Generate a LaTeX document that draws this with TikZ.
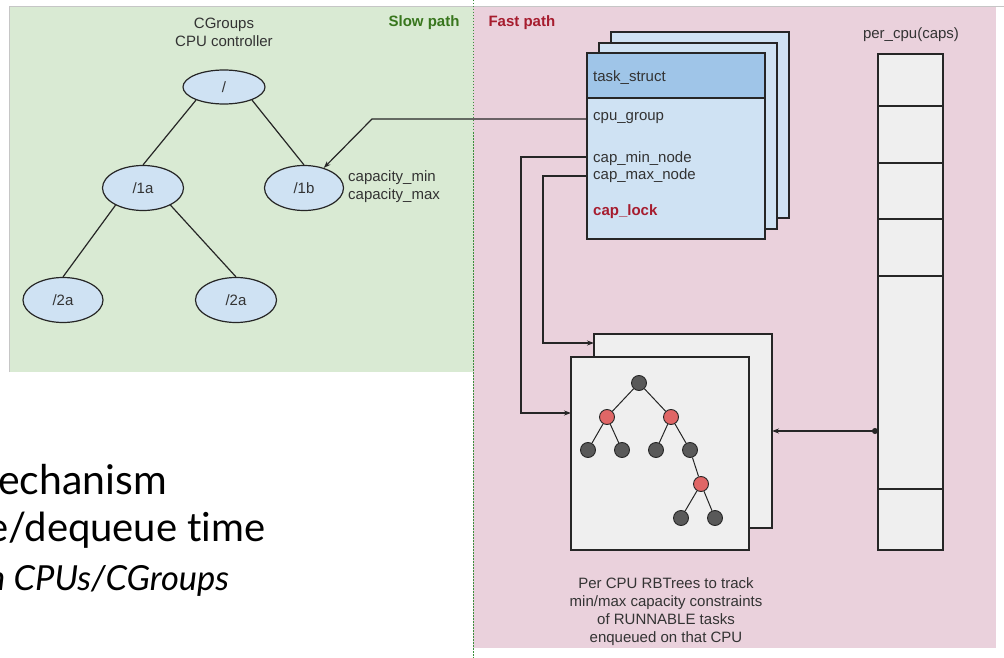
\documentclass[tikz,border=0pt]{standalone}
\usepackage{fontspec}
\setmainfont{Liberation Sans}
\newfontfamily\slidefont[RawFeature=-liga]{Lato}
\usetikzlibrary{positioning,shapes.geometric,arrows.meta}

\definecolor{slowbg}{HTML}{D9EAD3}
\definecolor{fastbg}{HTML}{EAD1DC}
\definecolor{slowtxt}{HTML}{38761D}
\definecolor{fasttxt}{HTML}{A61C2E}
\definecolor{groupfill}{HTML}{CFE2F3}
\definecolor{headfill}{HTML}{9FC5E8}
\definecolor{treebg}{HTML}{EFEFEF}
\definecolor{blacknode}{HTML}{595959}
\definecolor{rednode}{HTML}{E06666}
\definecolor{ink}{HTML}{333333}
\definecolor{lineink}{HTML}{262626}

\newcommand{\diagfont}{\fontsize{15}{18}\selectfont}

\begin{document}
\begin{tikzpicture}[x=1pt,y=-1pt,font=\diagfont,text=ink]
        \tikzset{cgroup/.append style={ellipse,
                    draw=lineink, fill=groupfill, line width=1.2pt,
                    minimum width=81pt, minimum height=45pt,
                    inner sep=0pt},
                 box/.append style={rectangle, draw=lineink, line width=1.2pt,
                    inner sep=0pt, outer sep=0pt},
                 field/.append style={anchor=base west, inner sep=0pt},
                 link/.append style={draw=lineink, line width=1.2pt},
                 arrowlink/.append style={link, -{Stealth[length=7pt,width=5pt]}},
                 rbnode/.append style={circle, draw=lineink, line width=0.9pt,
                    minimum size=15pt, inner sep=0pt},
                 rbblack/.append style={rbnode, fill=blacknode},
                 rbred/.append style={rbnode, fill=rednode}}
        \useasboundingbox (0,0) rectangle (1004,658);

        % slow path / fast path panels
        \fill[slowbg] (9,6) rectangle (473,372);
        \draw[gray!45, line width=0.6pt] (9,372) -- (9,6) -- (473,6);
        \fill[fastbg] (473,6) rectangle (996,648);
        \draw[gray!45, line width=0.6pt] (473,6) -- (1004,6);
        \draw[gray!60!green!80!black, line width=0.8pt, dash pattern=on 1.5pt off 1.5pt] (473,0) -- (473,658);

        \node[font=\diagfont\bfseries, text=slowtxt] (slowlbl) at (424,23) {Slow path};
        \node[font=\diagfont\bfseries, text=fasttxt, anchor=west] (fastlbl) at (485,23) {Fast path};

        % cgroups hierarchy
        \node[align=center] (cgtitle) at (224,32) {CGroups\\CPU controller};
        \node[cgroup, minimum width=82pt, minimum height=34pt] (root) at (224,87) {/};
        \node[cgroup] (g1a) at (143,188) {/1a};
        \node[cgroup, minimum width=79pt] (g1b) at (304,188) {/1b};
        \node[cgroup, minimum width=80pt] (g2l) at (63,300) {/2a};
        \node[cgroup] (g2r) at (236,300) {/2a};
        \node[align=left, anchor=west, inner sep=0pt] (caps) at (348,187) {capacity\_min\\capacity\_max};
        \draw[link] (root.205) -- (g1a.north);
        \draw[link] (root.335) -- (g1b.north);
        \draw[link] (g1a.212) -- (g2l.north);
        \draw[link] (g1a.328) -- (g2r.north);

        % task_struct stack
        \node[box, fill=groupfill, minimum width=178pt, minimum height=186pt] (tsback2) at (700,125) {};
        \node[box, fill=groupfill, minimum width=178pt, minimum height=186pt] (tsback1) at (688,136) {};
        \node[box, fill=groupfill, minimum width=178pt, minimum height=141pt] (tsbody) at (676,168.5) {};
        \node[box, fill=headfill, minimum width=178pt, minimum height=45pt] (tshead) at (676,75.5) {};
        \node[field] (tsname) at (593,82) {task\_struct};
        \node[field] (cpugroup) at (593,121) {cpu\_group};
        \node[field] (capmin) at (593,162) {cap\_min\_node};
        \node[field] (capmax) at (593,179) {cap\_max\_node};
        \node[field, font=\diagfont\bfseries, text=fasttxt] (caplock) at (593,215) {cap\_lock};

        % per cpu rbtrees
        \node[box, fill=treebg, minimum width=178pt, minimum height=194pt] (rbback) at (683,431) {};
        \node[box, fill=treebg, minimum width=178pt, minimum height=193pt] (rbfront) at (660,453.5) {};
        \node[rbblack] (t0) at (639,383) {};
        \node[rbred] (tl) at (607,417) {};
        \node[rbred] (tr) at (671,417) {};
        \node[rbblack] (l1) at (588,450) {};
        \node[rbblack] (l2) at (622,450) {};
        \node[rbblack] (l3) at (656,450) {};
        \node[rbblack] (l4) at (690,450) {};
        \node[rbred] (tm) at (701,484) {};
        \node[rbblack] (l5) at (681,518) {};
        \node[rbblack] (l6) at (715,518) {};
        \foreach \a/\b in {t0/tl, t0/tr, tl/l1, tl/l2, tr/l3, tr/l4, l4/tm, tm/l5, tm/l6}
            \draw[link, line width=1pt] (\a) -- (\b);
        \node[align=center] (rbcaption) at (666,612) {Per CPU RBTrees to track\\min/max capacity constraints\\of RUNNABLE tasks\\enqueued on that CPU};

        % per_cpu(caps) column
        \node (pcpulbl) at (911,35) {per\_cpu(caps)};
        \node[box, fill=treebg, minimum width=65pt, minimum height=496pt] (pcpu) at (910.5,302) {};
        \foreach \y in {106,163,219,276,489}
            \draw[link] (pcpu.west |- 0,\y) -- (pcpu.east |- 0,\y);

        % connectors
        \coordinate (cgout) at (tsbody.west |- 0,119);
        \coordinate (cgbend) at (372,119);
        \draw[arrowlink] (cgout) -- (cgbend) -- (g1b);
        \coordinate (minout) at (tsbody.west |- 0,157);
        \coordinate (minbend) at (521,157);
        \coordinate (minin) at (rbfront.west |- 0,413);
        \draw[arrowlink] (minout) -- (minbend) |- (minin);
        \coordinate (maxout) at (tsbody.west |- 0,176);
        \coordinate (maxbend) at (543,176);
        \coordinate (maxin) at (rbback.west |- 0,343);
        \draw[arrowlink] (maxout) -- (maxbend) |- (maxin);
        \draw[link, {Stealth[length=7pt,width=5pt]}-{Circle[length=6pt]}] (rbback.east) -- (rbback.east -| pcpu.west);

        % slide text behind the picture
        \node[font=\slidefont\fontsize{41}{48}\selectfont, text=black, anchor=base west, inner sep=0pt] (txtone) at (-2,494) {echanism};
        \node[font=\slidefont\fontsize{40}{48}\selectfont, text=black, anchor=base west, inner sep=0pt] (txttwo) at (-13,541) {e/dequeue time};
        \node[font=\slidefont\itshape\fontsize{34.5}{40}\selectfont, text=black, anchor=base west, inner sep=0pt] (txtthree) at (-13,590) {n CPUs/CGroups};
\end{tikzpicture}
\end{document}
